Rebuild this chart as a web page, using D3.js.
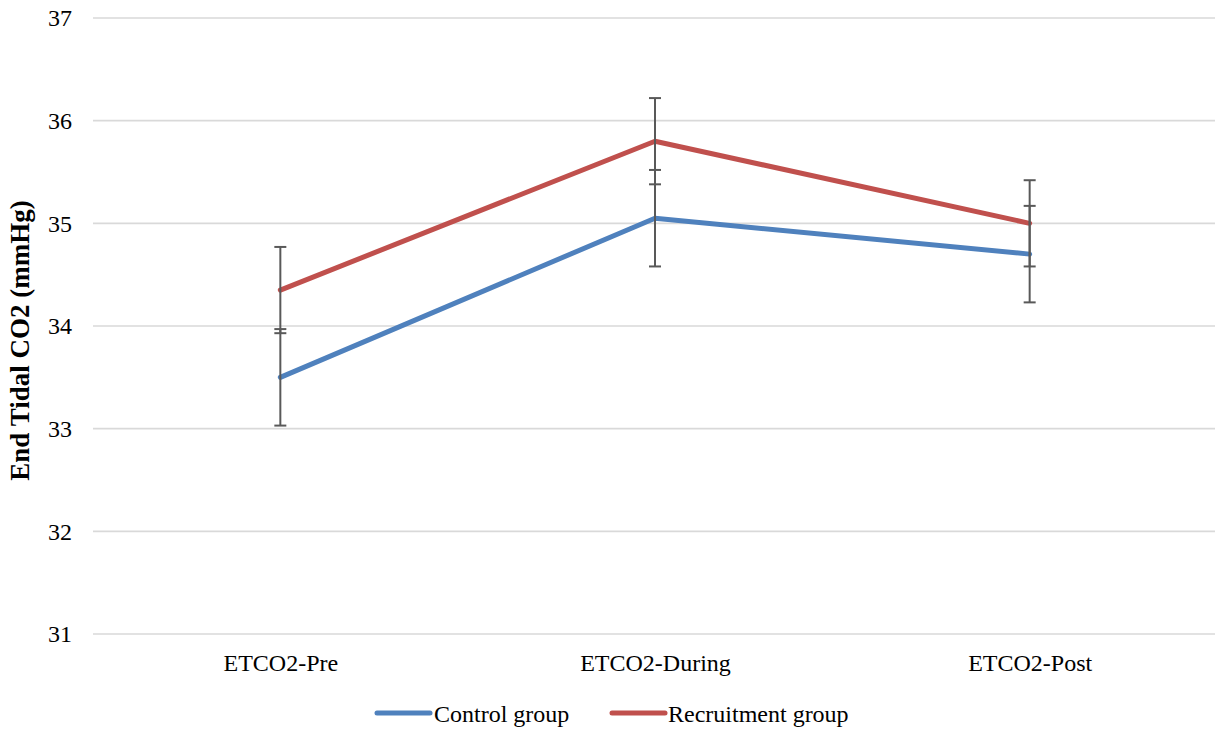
<!DOCTYPE html>
<html>
<head>
<meta charset="utf-8">
<script src="https://cdn.jsdelivr.net/npm/d3@7"></script>
<style>
  html, body { margin: 0; padding: 0; background: #fff; }
  svg { display: block; }
  svg text { font-family: "Liberation Serif", "Times New Roman", Times, "DejaVu Serif", serif !important; fill: #000; }
</style>
</head>
<body>
<svg id="chart" width="1215" height="731"></svg>
<script>
// End-tidal CO2 by phase, mean ± error per group
const categories = ["ETCO2-Pre", "ETCO2-During", "ETCO2-Post"];
const controlMeans = [33.5, 35.05, 34.7];
const controlErrors = [0.47, 0.47, 0.47];
const recruitmentMeans = [34.35, 35.8, 35.0];
const recruitmentErrors = [0.42, 0.42, 0.42];
const yTicks = [31, 32, 33, 34, 35, 36, 37];
const seriesNames = ["Control group", "Recruitment group"];
const seriesColors = ["#4F81BD", "#C0504D"];

const series = [
  { name: seriesNames[0], color: seriesColors[0], means: controlMeans, errors: controlErrors },
  { name: seriesNames[1], color: seriesColors[1], means: recruitmentMeans, errors: recruitmentErrors }
];

const serif = "'Liberation Serif', 'Times New Roman', Times, 'DejaVu Serif', serif";
const svg = d3.select("#chart").attr("font-family", serif);
const plot = { left: 93, right: 1217, top: 18, bottom: 634 };

const x = d3.scalePoint()
  .domain(categories)
  .range([plot.left, plot.right])
  .padding(0.5);

const y = d3.scaleLinear()
  .domain([31, 37])
  .range([plot.bottom, plot.top]);

// Horizontal gridlines
svg.append("g")
  .selectAll("line")
  .data(yTicks)
  .join("line")
  .attr("x1", plot.left)
  .attr("x2", 1215)
  .attr("y1", d => y(d))
  .attr("y2", d => y(d))
  .attr("stroke", "#d9d9d9")
  .attr("stroke-width", 1.6);

// Y axis tick labels
const yAxis = d3.axisLeft(y).tickValues(yTicks).tickSize(0).tickPadding(0).tickFormat(d3.format("d"));
const yAxisG = svg.append("g")
  .attr("transform", "translate(72,0)")
  .call(yAxis)
  .attr("font-family", serif)
  .attr("font-size", 24);
yAxisG.select(".domain").remove();
yAxisG.selectAll("text")
  .attr("fill", "#000")
  .attr("dy", "0.33em");

// X axis category labels
const xAxis = d3.axisBottom(x).tickSize(0).tickPadding(0);
const xAxisG = svg.append("g")
  .attr("transform", `translate(0,${plot.bottom})`)
  .call(xAxis)
  .attr("font-family", serif)
  .attr("font-size", 24);
xAxisG.select(".domain").remove();
xAxisG.selectAll("text")
  .attr("fill", "#000")
  .attr("y", 37)
  .attr("dy", 0);

// Y axis title
svg.append("text")
  .attr("transform", "translate(29,340.5) rotate(-90)")
  .attr("text-anchor", "middle")
  .attr("font-size", 27)
  .attr("font-weight", "bold")
  .text("End Tidal CO2 (mmHg)");

// Series lines
const line = d3.line()
  .x((d, i) => x(categories[i]))
  .y(d => y(d));

svg.append("g")
  .selectAll("path")
  .data(series)
  .join("path")
  .attr("d", s => line(s.means))
  .attr("fill", "none")
  .attr("stroke", s => s.color)
  .attr("stroke-width", 5)
  .attr("stroke-linecap", "round")
  .attr("stroke-linejoin", "round");

// Error bars
const capHalf = 6;
const errG = svg.append("g")
  .attr("stroke", "#595959")
  .attr("stroke-width", 2);

series.forEach(s => {
  s.means.forEach((m, i) => {
    const cx = x(categories[i]);
    const hi = y(m + s.errors[i]);
    const lo = y(m - s.errors[i]);
    errG.append("line").attr("x1", cx).attr("x2", cx).attr("y1", hi).attr("y2", lo);
    errG.append("line").attr("x1", cx - capHalf).attr("x2", cx + capHalf).attr("y1", hi).attr("y2", hi);
    errG.append("line").attr("x1", cx - capHalf).attr("x2", cx + capHalf).attr("y1", lo).attr("y2", lo);
  });
});

// Legend
const legendItems = [
  { x1: 377, x2: 430, tx: 434 },
  { x1: 612, x2: 665, tx: 668 }
];
const legend = svg.append("g");
series.forEach((s, i) => {
  const it = legendItems[i];
  legend.append("line")
    .attr("x1", it.x1).attr("x2", it.x2)
    .attr("y1", 713).attr("y2", 713)
    .attr("stroke", s.color)
    .attr("stroke-width", 5)
    .attr("stroke-linecap", "round");
  legend.append("text")
    .attr("x", it.tx)
    .attr("y", 722)
    .attr("font-size", 24)
    .text(s.name);
});
</script>
</body>
</html>
